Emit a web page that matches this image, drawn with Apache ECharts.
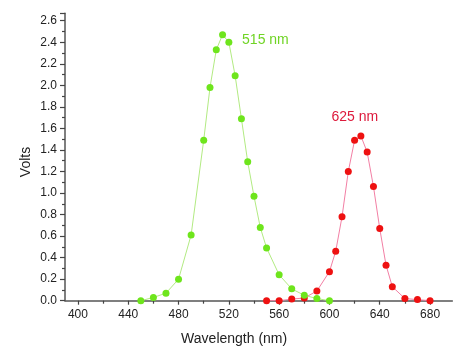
<!DOCTYPE html>
<html>
<head>
<meta charset="utf-8">
<script src="https://cdn.jsdelivr.net/npm/echarts@6/dist/echarts.min.js"></script>
<style>html,body{margin:0;padding:0;background:#fff}#c{width:474px;height:361px}</style>
</head>
<body>
<div id="c"></div>
<script>
var greenX = [450,460,470,480,490,500,505,510,515,520,525,530,535,540,545,550,560,570,580,590,600];
var greenY = [0.00,0.03,0.07,0.20,0.61,1.49,1.98,2.33,2.47,2.40,2.09,1.69,1.29,0.97,0.68,0.49,0.24,0.11,0.05,0.02,0.00];
var redX = [550,560,570,580,590,600,605,610,615,620,625,630,635,640,645,650,660,670,680];
var redY = [0.00,0.00,0.015,0.025,0.09,0.27,0.46,0.78,1.20,1.49,1.53,1.38,1.06,0.67,0.33,0.13,0.02,0.01,0.00];
var xMajorTicks = [400,440,480,520,560,600,640,680];
var xMinorTicks = [420,460,500,540,580,620,660];
var greenPeakLabel = '515 nm';
var redPeakLabel = '625 nm';

function build(xs, ys, peakLabel, labelOpts) {
  var maxI = 0;
  for (var i = 0; i < ys.length; i++) if (ys[i] > ys[maxI]) maxI = i;
  return xs.map(function (x, i) {
    var d = { value: [x, ys[i]] };
    if (i === maxI) {
      d.label = Object.assign({ show: true, formatter: peakLabel }, labelOpts);
    }
    return d;
  });
}

var chart = echarts.init(document.getElementById('c'));
var font = 'Liberation Sans, Arial, sans-serif';
chart.setOption({
  animation: false,
  backgroundColor: '#fff',
  grid: { left: 65, right: 21.7, top: 13.3, bottom: 60.3, containLabel: false },
  xAxis: [{
    type: 'value', min: 389.7, max: 697.7,
    name: 'Wavelength (nm)', nameLocation: 'middle', nameGap: 31, nameMoveOverlap: false,
    nameTextStyle: { fontFamily: font, fontSize: 14, color: '#222', padding: [0, 49, 0, 0] },
    axisLine: { show: true, onZero: false, lineStyle: { color: '#555', width: 1.5 } },
    axisTick: { show: true, inside: false, length: 4, customValues: xMajorTicks, lineStyle: { color: '#444', width: 1.2 } },
    axisLabel: { customValues: xMajorTicks, fontFamily: font, fontSize: 12, color: '#222', margin: 8 },
    splitLine: { show: false }
  }, {
    type: 'value', min: 389.7, max: 697.7, position: 'bottom',
    axisLine: { show: false },
    axisTick: { show: true, inside: false, length: 3, customValues: xMinorTicks, lineStyle: { color: '#444', width: 1.2 } },
    axisLabel: { show: false },
    splitLine: { show: false }
  }],
  yAxis: {
    type: 'value', min: 0, max: 2.669, interval: 0.2,
    name: 'Volts', nameLocation: 'middle', nameGap: 32, nameMoveOverlap: false,
    nameTextStyle: { fontFamily: font, fontSize: 14, color: '#222', padding: [0, 10, 0, 0] },
    axisLine: { show: true, lineStyle: { color: '#555', width: 1.5 } },
    axisTick: { show: true, inside: false, length: 5, lineStyle: { color: '#444', width: 1.2 } },
    minorTick: { show: true, splitNumber: 2, length: 3, lineStyle: { color: '#444', width: 1.2 } },
    axisLabel: {
      fontFamily: font, fontSize: 12, color: '#222', margin: 8, showMaxLabel: false,
      formatter: function (v) { return v.toFixed(1); }
    },
    splitLine: { show: false }
  },
  series: [{
    type: 'line', name: '515 nm', xAxisIndex: 0,
    data: build(greenX, greenY, greenPeakLabel, { position: 'right', offset: [11, 5], color: '#6fd424', fontFamily: font, fontSize: 14 }),
    symbol: 'circle', symbolSize: 7,
    itemStyle: { color: '#6ee51c' },
    lineStyle: { color: '#b2ea82', width: 1 },
    z: 3
  }, {
    type: 'line', name: '625 nm', xAxisIndex: 0,
    data: build(redX, redY, redPeakLabel, { position: 'top', offset: [-6, -3], color: '#dd1a3c', fontFamily: font, fontSize: 14 }),
    symbol: 'circle', symbolSize: 7,
    itemStyle: { color: '#ee1111' },
    lineStyle: { color: '#f27fa4', width: 1 },
    z: 2
  }]
});
</script>
</body>
</html>
